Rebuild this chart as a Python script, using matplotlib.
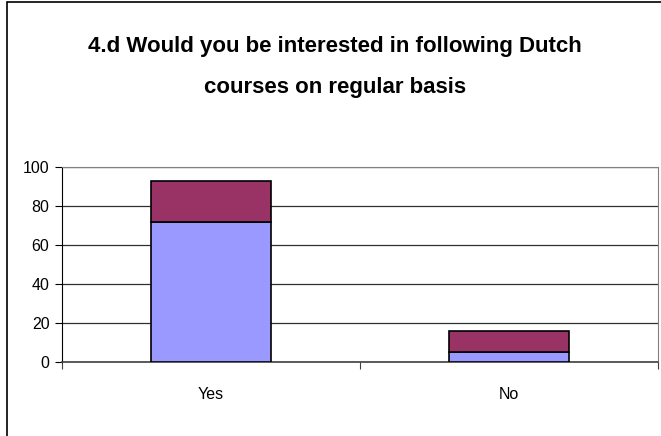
import numpy as np
import matplotlib.pyplot as plt
from matplotlib.patches import Rectangle

categories = ["Yes", "No"]
series_a = [72, 5]    # lower segment
series_b = [21, 11]   # upper segment
yticks = [0, 20, 40, 60, 80, 100]

plt.rcParams['font.family'] = ['Liberation Sans Narrow', 'Liberation Sans', 'DejaVu Sans']

fig = plt.figure(figsize=(6.61, 4.36), dpi=100)
# outer chart frame (cropped on right and bottom in the original)
fig.patches.append(Rectangle((7 / 661, -0.1), 1.2, 1 - 2 / 436 + 0.1,
                             transform=fig.transFigure, fill=False,
                             edgecolor="black", linewidth=1.2))

ax = fig.add_axes([62 / 661, 1 - 362 / 436, 596 / 661, 195 / 436])

x = np.arange(len(categories))
ax.bar(x, series_a, width=0.4, color="#9999FF", edgecolor="black", linewidth=1.2, zorder=3)
ax.bar(x, series_b, width=0.4, bottom=series_a, color="#993366", edgecolor="black",
       linewidth=1.2, zorder=3)

ax.set_xlim(-0.5, len(categories) - 0.5)
ax.set_ylim(0, 100)
ax.set_yticks(yticks)
ax.set_yticklabels([str(v) for v in yticks], fontsize=11.5)
ax.yaxis.grid(True, color="#303030", linewidth=0.9, zorder=0)

# category labels centered, ticks between categories
ax.set_xticks(np.arange(-0.5, len(categories)))
ax.set_xticklabels([])
ax.set_xticks(x, minor=True)
ax.set_xticklabels(categories, minor=True, fontsize=11.5)
ax.tick_params(axis="x", which="minor", length=0, pad=18)
ax.tick_params(axis="x", which="major", length=5, direction="out", color="#404040")
ax.tick_params(axis="y", length=5, direction="out", pad=4)

for side in ["top", "right"]:
    ax.spines[side].set_color("#808080")
ax.spines["bottom"].set_color("#404040")
ax.spines["left"].set_color("black")
ax.spines["bottom"].set_linewidth(1.2)

fig.text(335 / 661, 1 - 52 / 436, "4.d Would you be interested in following Dutch",
         ha="center", va="baseline", fontsize=16, fontweight="bold")
fig.text(335 / 661, 1 - 93 / 436, "courses on regular basis",
         ha="center", va="baseline", fontsize=16, fontweight="bold")

fig.savefig("out.png", dpi=100)
